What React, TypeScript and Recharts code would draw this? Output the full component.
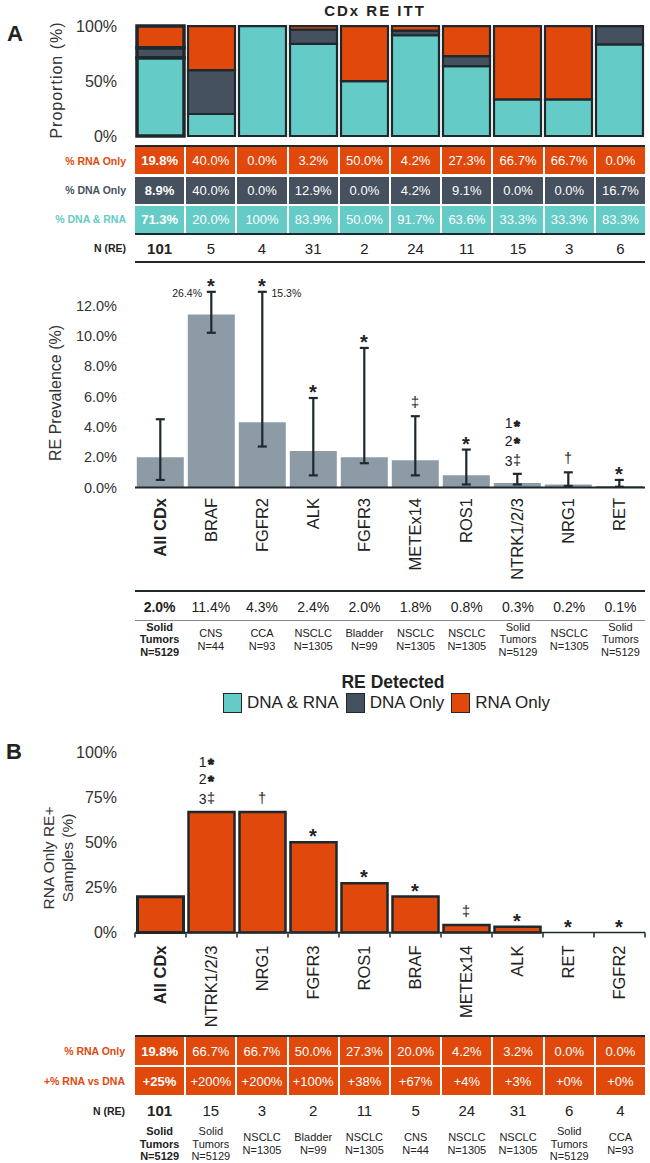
import React from 'react';
import { BarChart, ComposedChart, Bar, Line, XAxis, YAxis, ErrorBar, Cell } from 'recharts';

const FONT = '"Liberation Sans", Arial, Helvetica, sans-serif';
const TEAL = '#64cbc6';
const SLATE = '#45515e';
const ORANGE = '#e0490b';
const GRAY = '#8d9ba7';
const INK = '#1f282d';
const TEXT = '#222';

// ---- Panel A: detection split per gene ----
const genesA = ['All CDx', 'BRAF', 'FGFR2', 'ALK', 'FGFR3', 'METEx14', 'ROS1', 'NTRK1/2/3', 'NRG1', 'RET'];
const rnaOnlyA = [19.8, 40.0, 0.0, 3.2, 50.0, 4.2, 27.3, 66.7, 66.7, 0.0];
const dnaOnlyA = [8.9, 40.0, 0.0, 12.9, 0.0, 4.2, 9.1, 0.0, 0.0, 16.7];
const bothA = [71.3, 20.0, 100, 83.9, 50.0, 91.7, 63.6, 33.3, 33.3, 83.3];
const nReA = [101, 5, 4, 31, 2, 24, 11, 15, 3, 6];

// ---- Panel A: RE prevalence with CI ----
const prevalence = [2.0, 11.4, 4.3, 2.4, 2.0, 1.8, 0.8, 0.3, 0.2, 0.1];
const ciLow = [0.5, 10.2, 2.7, 0.8, 1.6, 0.8, 0.2, 0.2, 0.1, 0.05];
const ciHigh = [4.5, 26.4, 15.3, 5.9, 9.2, 4.7, 2.5, 0.9, 1.0, 0.5];
const sigA = ['', '*', '*', '*', '*', '‡', '*', '1*|2*|3‡', '†', '*'];
const cohortA = [
  ['Solid', 'Tumors', 'N=5129'], ['CNS', 'N=44'], ['CCA', 'N=93'], ['NSCLC', 'N=1305'], ['Bladder', 'N=99'],
  ['NSCLC', 'N=1305'], ['NSCLC', 'N=1305'], ['Solid', 'Tumors', 'N=5129'], ['NSCLC', 'N=1305'], ['Solid', 'Tumors', 'N=5129'],
];

// ---- Panel B: RNA only RE+ samples ----
const genesB = ['All CDx', 'NTRK1/2/3', 'NRG1', 'FGFR3', 'ROS1', 'BRAF', 'METEx14', 'ALK', 'RET', 'FGFR2'];
const rnaOnlyB = [19.8, 66.7, 66.7, 50.0, 27.3, 20.0, 4.2, 3.2, 0.0, 0.0];
const gainB = [25, 200, 200, 100, 38, 67, 4, 3, 0, 0];
const nReB = [101, 15, 3, 2, 11, 5, 24, 31, 6, 4];
const sigB = ['', '1*|2*|3‡', '†', '*', '*', '*', '‡', '*', '*', '*'];
const cohortB = [
  ['Solid', 'Tumors', 'N=5129'], ['Solid', 'Tumors', 'N=5129'], ['NSCLC', 'N=1305'], ['Bladder', 'N=99'], ['NSCLC', 'N=1305'],
  ['CNS', 'N=44'], ['NSCLC', 'N=1305'], ['NSCLC', 'N=1305'], ['Solid', 'Tumors', 'N=5129'], ['CCA', 'N=93'],
];

const legendItems = [
  { label: 'DNA & RNA', color: TEAL },
  { label: 'DNA Only', color: SLATE },
  { label: 'RNA Only', color: ORANGE },
];

const PLOT_L = 135;
const PLOT_R = 645;
const Y_W = 60;
const AXIS_TOP = 13; // prevalence axis ends here; longer CIs are cut and labelled

const pct1 = (v: number) => (v === 100 ? '100%' : `${v.toFixed(1)}%`);

const topData = genesA.map((name, i) => ({ name, both: bothA[i], dnaOnly: dnaOnlyA[i], rnaOnly: rnaOnlyA[i] }));
const prevData = genesA.map((name, i) => {
  const top = Math.min(ciHigh[i], AXIS_TOP - 0.1);
  return {
    name,
    prev: prevalence[i],
    err: [prevalence[i] - ciLow[i], top - prevalence[i]],
    capTop: top,
    over: ciHigh[i] > AXIS_TOP ? ciHigh[i] : null,
    sig: sigA[i],
  };
});
const bData = genesB.map((name, i) => ({ name, rna: rnaOnlyB[i], sig: sigB[i] }));

// significance marks above a point; stacked lines get a tighter font so they don't collide
function sigMarks(sig: string, cx: number, anchorY: number) {
  if (!sig) return null;
  const lines = sig.split('|');
  const n = lines.length;
  const stacked = n > 1;
  // centres from the bottom line upwards
  const centres: number[] = new Array(n);
  for (let k = n - 1; k >= 0; k--) {
    if (k === n - 1) centres[k] = anchorY - (lines[k].slice(-1) === '*' ? 10.5 : 13.3);
    else centres[k] = centres[k + 1] - (lines[k + 1].slice(-1) === '*' ? 17.3 : 19.9);
  }
  return lines.map((ln, k) => {
    const c = centres[k];
    const sym = ln.slice(-1);
    const digit = ln.slice(0, -1);
    const star = sym === '*';
    const starSize = stacked ? 15 : 20;
    return (
      <g key={k}>
        {digit && (
          <text x={cx - 5} y={c + 5} textAnchor="end" fontSize={14} fill={TEXT} fontFamily={FONT}>{digit}</text>
        )}
        <text x={cx - 0.5} y={c + (star ? (stacked ? 7.3 : 11.6) : 4.4)} textAnchor="middle" fontSize={star ? starSize : 14.5}
          fontWeight={star ? 700 : 400} fill={TEXT} fontFamily={FONT}
          stroke={star && stacked ? TEXT : 'none'} strokeWidth={star && stacked ? 1 : 0}>
          {sym}
        </text>
      </g>
    );
  });
}

const renderPrevMark = (p: any) => {
  const { cx, cy, index, payload } = p;
  const next = prevData[index + 1];
  const left = !!(next && next.over != null);
  return (
    <g key={`pm-${index}`}>
      {sigMarks(payload.sig, cx, cy)}
      {payload.over != null && (
        <text x={left ? cx - 9.5 : cx + 9} y={cy + 5} textAnchor={left ? 'end' : 'start'} fontSize={10.5} fill={TEXT} fontFamily={FONT}>
          {`${payload.over.toFixed(1)}%`}
        </text>
      )}
    </g>
  );
};

const renderRnaMark = (p: any) => {
  const { cx, cy, index, payload } = p;
  return <g key={`rm-${index}`}>{sigMarks(payload.sig, cx, cy)}</g>;
};

function GeneTick(props: any) {
  const { x, y, payload, index, edges, margin, width, visibleTicksCount } = props;
  let band = width && visibleTicksCount ? width / visibleTicksCount : 51;
  if (!(band > 20 && band < 100)) band = 51;
  const axisY = y - margin;
  return (
    <g>
      <text x={x} y={y} transform={`rotate(-90 ${x} ${y})`} textAnchor="end" dy="0.36em" fontSize={16.5}
        fontWeight={index === 0 ? 700 : 400} fill={TEXT} fontFamily={FONT}>
        {payload.value}
      </text>
      {edges && <line x1={x - band / 2} x2={x - band / 2} y1={axisY} y2={axisY + 5} stroke={INK} strokeWidth={1.5} />}
      {edges && index === visibleTicksCount - 1 && (
        <line x1={x + band / 2} x2={x + band / 2} y1={axisY} y2={axisY + 5} stroke={INK} strokeWidth={1.5} />
      )}
    </g>
  );
}

function CellRow({ top, h, values, bg, color = '#fff', size = 13, lineHeight = 1 }: any) {
  return (
    <div style={{ position: 'absolute', left: PLOT_L, top, width: PLOT_R - PLOT_L, height: h, display: 'flex', columnGap: 2 }}>
      {values.map((v: any, i: number) => (
        <div key={i} style={{
          flex: 1, background: bg, color, fontSize: size, fontWeight: i === 0 ? 700 : 400, display: 'flex',
          flexDirection: 'column', alignItems: 'center', justifyContent: 'center', lineHeight: `${lineHeight}`,
          whiteSpace: 'nowrap', textAlign: 'center',
        }}>
          {Array.isArray(v) ? v.map((s: string, k: number) => <div key={k}>{s}</div>) : v}
        </div>
      ))}
    </div>
  );
}

function RowLabel({ y, text, color, right = 126 }: any) {
  return (
    <div style={{ position: 'absolute', right: 650 - right, top: y, transform: 'translateY(-50%)', fontSize: 10.5, fontWeight: 700, color, whiteSpace: 'nowrap' }}>
      {text}
    </div>
  );
}

function Rule({ top, h = 2, color = INK }: any) {
  return <div style={{ position: 'absolute', left: PLOT_L, top, width: PLOT_R - PLOT_L, height: h, background: color }} />;
}

function VText({ cx, cy, children, style }: any) {
  return (
    <div style={{ position: 'absolute', left: cx, top: cy, transform: 'translate(-50%, -50%) rotate(-90deg)', whiteSpace: 'nowrap', textAlign: 'center', ...style }}>
      {children}
    </div>
  );
}

const yTick = (size: number) => ({ fontSize: size, fill: '#333', fontFamily: FONT });

export default function App() {
  return (
    <div style={{ position: 'absolute', left: 0, top: 0, width: 650, height: 1163, background: '#fff', overflow: 'hidden', fontFamily: FONT, color: TEXT }}>
      {/* ---------- Panel A ---------- */}
      <div style={{ position: 'absolute', left: 15, top: 34, transform: 'translate(-50%, -50%)', fontSize: 22, fontWeight: 700 }}>A</div>
      <div style={{ position: 'absolute', left: 375, top: 10, transform: 'translate(-50%, -50%)', fontSize: 15, fontWeight: 700, letterSpacing: 2, whiteSpace: 'nowrap' }}>CDx RE ITT</div>
      <VText cx={57} cy={80} style={{ fontSize: 16, letterSpacing: 1, color: '#333' }}>Proportion (%)</VText>

      <div style={{ position: 'absolute', left: 0, top: 0 }}>
        <BarChart width={650} height={145} data={topData} margin={{ top: 26, right: 650 - PLOT_R, bottom: 9, left: PLOT_L - Y_W }} barCategoryGap={2}>
          <XAxis dataKey="name" hide />
          <YAxis width={Y_W} domain={[0, 100]} ticks={[0, 50, 100]} interval={0} tickFormatter={(v: number) => `${v}%`} axisLine={false}
            tickLine={false} tickSize={0} tickMargin={18} tick={yTick(16)} />
          <Bar dataKey="both" stackId="re" fill={TEAL} stroke={INK} strokeWidth={2.2} isAnimationActive={false}>
            {topData.map((_, i) => <Cell key={i} strokeWidth={i === 0 ? 3.5 : 2.2} />)}
          </Bar>
          <Bar dataKey="dnaOnly" stackId="re" fill={SLATE} stroke={INK} strokeWidth={2.2} isAnimationActive={false}>
            {topData.map((_, i) => <Cell key={i} strokeWidth={i === 0 ? 3.5 : 2.2} />)}
          </Bar>
          <Bar dataKey="rnaOnly" stackId="re" fill={ORANGE} stroke={INK} strokeWidth={2.2} isAnimationActive={false}>
            {topData.map((_, i) => <Cell key={i} strokeWidth={i === 0 ? 3.5 : 2.2} />)}
          </Bar>
        </BarChart>
      </div>

      <Rule top={145} />
      <CellRow top={147} h={27} values={rnaOnlyA.map(pct1)} bg={ORANGE} />
      <CellRow top={176.5} h={27} values={dnaOnlyA.map(pct1)} bg={SLATE} />
      <CellRow top={205.5} h={27} values={bothA.map(pct1)} bg={TEAL} />
      <Rule top={232.5} />
      <CellRow top={238} h={21} values={nReA} color={TEXT} size={15} />
      <Rule top={261} />
      <RowLabel y={161} text="% RNA Only" color={ORANGE} />
      <RowLabel y={190} text="% DNA Only" color={SLATE} />
      <RowLabel y={219} text="% DNA & RNA" color={TEAL} />
      <RowLabel y={248} text="N (RE)" color={TEXT} />

      <VText cx={56} cy={393} style={{ fontSize: 16, color: '#333' }}>RE Prevalence (%)</VText>
      <div style={{ position: 'absolute', left: 0, top: 264 }}>
        <ComposedChart width={650} height={326} data={prevData} margin={{ top: 26.3, right: 650 - PLOT_R, bottom: 0, left: PLOT_L - Y_W }} barCategoryGap={1.8}>
          <XAxis dataKey="name" interval={0} height={102.5} axisLine={{ stroke: INK, strokeWidth: 2 }} tickLine={false}
            tickSize={0} tickMargin={10.5} tick={(p: any) => <GeneTick {...p} margin={10.5} />} />
          <YAxis width={Y_W} domain={[0, AXIS_TOP]} ticks={[0, 2, 4, 6, 8, 10, 12]} interval={0} tickFormatter={(v: number) => `${v.toFixed(1)}%`}
            axisLine={false} tickLine={false} tickSize={0} tickMargin={18} tick={yTick(14.5)} />
          <Bar dataKey="prev" fill={GRAY} isAnimationActive={false}>
            <ErrorBar dataKey="err" width={4.5} stroke={INK} strokeWidth={2.2} direction="y" isAnimationActive={false} />
          </Bar>
          <Line dataKey="capTop" stroke="none" dot={renderPrevMark} activeDot={false} isAnimationActive={false} />
        </ComposedChart>
      </div>

      <Rule top={590} />
      <CellRow top={597} h={20} values={prevalence.map(pct1)} color={TEXT} size={14} />
      <Rule top={620} h={1} color="#888" />
      <CellRow top={621} h={37} values={cohortA} color={TEXT} size={11} lineHeight={1.15} />

      {/* legend */}
      <div style={{ position: 'absolute', left: 393, top: 682, transform: 'translate(-50%, -50%)', fontSize: 17.5, fontWeight: 700, whiteSpace: 'nowrap' }}>RE Detected</div>
      <div style={{ position: 'absolute', left: 223, top: 693, height: 20, display: 'flex', alignItems: 'center', columnGap: 7 }}>
        {legendItems.map((it) => (
          <div key={it.label} style={{ display: 'flex', alignItems: 'center', columnGap: 5 }}>
            <div style={{ width: 17, height: 18, background: it.color, border: `1.5px solid ${INK}` }} />
            <span style={{ fontSize: 17, color: '#222', whiteSpace: 'nowrap' }}>{it.label}</span>
          </div>
        ))}
      </div>

      {/* ---------- Panel B ---------- */}
      <div style={{ position: 'absolute', left: 14, top: 752, transform: 'translate(-50%, -50%)', fontSize: 22, fontWeight: 700 }}>B</div>
      <VText cx={58} cy={858} style={{ fontSize: 15.5, lineHeight: '19px', color: '#333' }}>
        <div>RNA Only RE+</div>
        <div>Samples (%)</div>
      </VText>
      <div style={{ position: 'absolute', left: 0, top: 740 }}>
        <ComposedChart width={650} height={292.5} data={bData} margin={{ top: 12, right: 650 - PLOT_R, bottom: 0, left: PLOT_L - Y_W }} barCategoryGap={2.5}>
          <XAxis dataKey="name" interval={0} height={100} axisLine={{ stroke: INK, strokeWidth: 1.5 }} tickLine={false}
            tickSize={0} tickMargin={13} tick={(p: any) => <GeneTick {...p} margin={13} edges />} />
          <YAxis width={Y_W} domain={[0, 100]} ticks={[0, 25, 50, 75, 100]} interval={0} tickFormatter={(v: number) => `${v}%`}
            axisLine={false} tickLine={false} tickSize={0} tickMargin={18} tick={yTick(16)} />
          <Bar dataKey="rna" fill={ORANGE} stroke={INK} strokeWidth={2.5} isAnimationActive={false}>
            {bData.map((_, i) => <Cell key={i} strokeWidth={i === 0 ? 3 : 2.5} />)}
          </Bar>
          <Line dataKey="rna" stroke="none" dot={renderRnaMark} activeDot={false} isAnimationActive={false} />
        </ComposedChart>
      </div>

      <Rule top={1035} />
      <CellRow top={1037} h={28} values={rnaOnlyB.map(pct1)} bg={ORANGE} />
      <CellRow top={1067} h={28} values={gainB.map((v) => `+${v}%`)} bg={ORANGE} />
      <CellRow top={1100} h={21} values={nReB} color={TEXT} size={15} />
      <CellRow top={1125} h={38} values={cohortB} color={TEXT} size={11} lineHeight={1.15} />
      <RowLabel y={1051} text="% RNA Only" color={ORANGE} right={125} />
      <RowLabel y={1081} text="+% RNA vs DNA" color={ORANGE} right={125} />
      <RowLabel y={1110.5} text="N (RE)" color={TEXT} right={125} />
    </div>
  );
}
